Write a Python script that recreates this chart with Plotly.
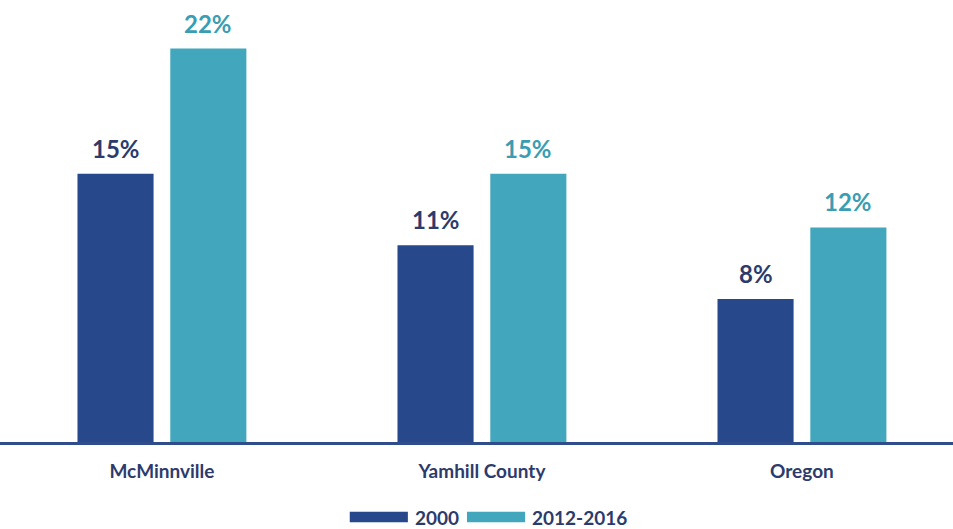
import plotly.graph_objects as go

# Share of residents, by place and period
places = ["McMinnville", "Yamhill County", "Oregon"]
series_names = ["2000", "2012-2016"]
values_2000 = [15, 11, 8]
values_2012_2016 = [22, 15, 12]

navy = "#27498b"
teal = "#42a7bc"
navy_text = "#2c3b6c"
teal_text = "#3b9db2"
label_font = "Lato, sans-serif"

fig = go.Figure()
for name, vals, color in [(series_names[0], values_2000, navy),
                          (series_names[1], values_2012_2016, teal)]:
    fig.add_trace(go.Bar(x=places, y=vals, name=name, marker_color=color,
                         marker_line_width=0, showlegend=False))

# Value labels above each bar
slot = 0.29  # offset of each bar from the category centre, in axis units
for i, place in enumerate(places):
    for vals, dx, col in [(values_2000, -slot / 2, navy_text),
                          (values_2012_2016, slot / 2, teal_text)]:
        fig.add_annotation(x=i + dx, y=vals[i], text=f"{vals[i]}%",
                           showarrow=False, yanchor="bottom", yshift=9,
                           font=dict(family=label_font, size=24, color=col, weight="bold"))

# Legend drawn as wide swatches below the axis
legend_items = [(series_names[0], navy, 0.367, 0.433),
                (series_names[1], teal, 0.490, 0.556)]
for name, color, x0, tx in legend_items:
    fig.add_shape(type="rect", xref="paper", yref="paper",
                  x0=x0, x1=x0 + 0.061, y0=-0.190, y1=-0.165,
                  fillcolor=color, line_width=0)
    fig.add_annotation(xref="paper", yref="paper", x=tx, y=-0.178,
                       xanchor="left", yanchor="middle", showarrow=False, text=name,
                       font=dict(family=label_font, size=19, color=navy_text, weight="bold"))

fig.update_layout(
    width=953, height=529,
    margin=dict(l=0, r=0, t=20, b=87),
    paper_bgcolor="white", plot_bgcolor="white",
    barmode="group", bargap=0.42, bargroupgap=0.18,
    xaxis=dict(range=[-0.506, 2.472], showline=True, linecolor="#2f4d8c",
               linewidth=2.5, ticks="", showgrid=False, ticklabelstandoff=10,
               tickfont=dict(family=label_font, size=19, color=navy_text, weight="bold")),
    yaxis=dict(range=[0, 23.6], visible=False, showgrid=False),
)

fig.write_html("out.html")
